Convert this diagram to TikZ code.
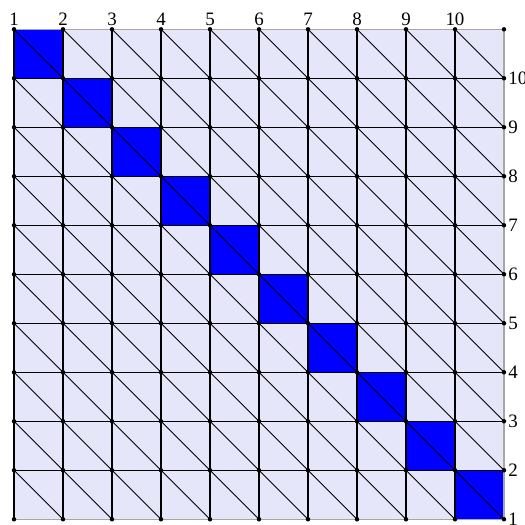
\documentclass[tikz,border=0pt]{standalone}
\usepackage{fontspec}
\setmainfont{Liberation Serif}
\usetikzlibrary{calc}
\definecolor{cellfill}{RGB}{230,230,250}

\begin{document}
\begin{tikzpicture}[x=1cm,y=1cm,font=\fontsize{11}{13}\selectfont,
  gridline/.style={line width=0.6pt,black},
  diagline/.style={line width=0.5pt,black},
  vertexdot/.style={fill=black}]
  \useasboundingbox (-0.286,-0.116) rectangle (10.429,10.598);
  % background and blue diagonal blocks
  \fill[cellfill] (0,0) rectangle (10,10);
  \foreach \i in {0,...,9}
    \fill[blue] (\i,9-\i) rectangle (\i+1,10-\i);
  % mesh
  \draw[gridline] (0,0) grid (10,10);
  \draw[gray!70,line width=0.6pt] (0,0) -- (10,0) -- (10,10) -- (0,10);
  \foreach \i in {0,...,9}
    \foreach \j in {0,...,9}
      \draw[diagline] (\i,\j+1) -- (\i+1,\j);
  % vertices
  \foreach \i in {0,...,10}
    \foreach \j in {0,...,10}
      \fill[vertexdot] (\i,\j) circle (1.3pt);
  % numbering
  \foreach \i in {1,...,10} {
    \node[above=2pt,inner sep=0pt] (top\i) at (\i-1,10) {\i};
    \node[right=2.3pt,inner sep=0pt] (side\i) at (10,\i-1) {\i};
  }
\end{tikzpicture}
\end{document}
